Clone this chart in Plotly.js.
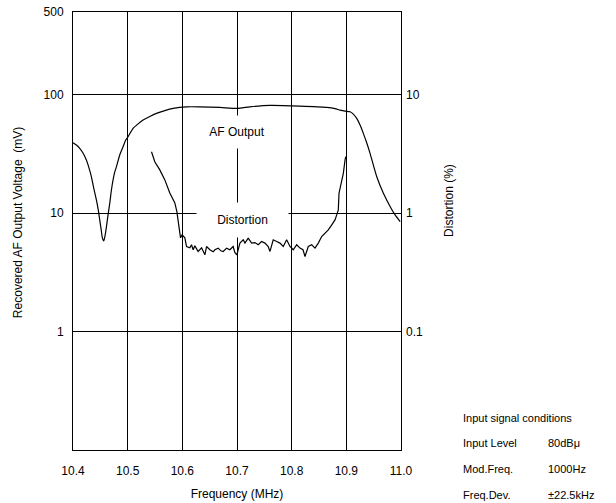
<!DOCTYPE html>
<html>
<head>
<meta charset="utf-8">
<script src="https://cdn.plot.ly/plotly-3.0.1.min.js"></script>
<style>html,body{margin:0;padding:0;background:#fff;}#chart{width:616px;height:503px;}</style>
</head>
<body>
<div id="chart"></div>
<script>
// AF Output (mV, left axis)
const afFreq = [10.4,10.4062,10.4123,10.4183,10.4245,10.4288,10.4337,10.4379,10.4429,10.4462,10.4489,10.4516,10.4538,10.4562,10.4586,10.4612,10.4641,10.4672,10.4703,10.4733,10.4764,10.4795,10.4855,10.4916,10.4965,10.5007,10.5099,10.5185,10.5282,10.5405,10.5527,10.5679,10.5832,10.6077,10.632,10.6687,10.7004,10.7236,10.7603,10.8152,10.8641,10.8793,10.8885,10.8976,10.9068,10.9128,10.919,10.9251,10.9311,10.9374,10.9434,10.9557,10.9678,10.98,10.9892,10.9984];
const afMv = [39.3,37.6,35.3,32.2,28.1,24.5,20.3,16.3,12.9,10.66,8.78,7.23,6.16,5.84,6.44,7.71,9.67,12.1,15.7,19.1,22.3,24.7,31.0,36.4,41.5,44.2,52.0,56.5,61.1,65.6,69.6,73.5,76.7,79.1,79.1,78.2,76.7,79.1,81.3,80.2,78.2,76.4,74.2,72.7,71.8,68.7,63.1,55.5,47.2,39.1,32.0,20.3,14.7,11.4,9.67,8.50];

// Distortion (%, right axis)
const distFreq = [10.5436,10.5496,10.5588,10.568,10.5771,10.5863,10.59,10.5927,10.5954,10.5967,10.5996,10.6046,10.6077,10.6137,10.6168,10.6198,10.6229,10.6289,10.6352,10.6412,10.6443,10.6504,10.6564,10.6595,10.6656,10.6705,10.6747,10.681,10.687,10.693,10.6962,10.6998,10.7053,10.7114,10.7145,10.7205,10.7267,10.7328,10.7388,10.745,10.7511,10.7571,10.7603,10.7663,10.7725,10.7786,10.7846,10.7908,10.7969,10.8029,10.8092,10.8152,10.8207,10.8244,10.8304,10.8366,10.8427,10.8487,10.8549,10.861,10.867,10.8733,10.8793,10.8824,10.8853,10.8866,10.8903,10.8945,10.8976,10.8989];
const distPct = [3.30,2.72,2.32,1.91,1.48,1.22,1.03,0.845,0.723,0.619,0.656,0.619,0.523,0.510,0.541,0.491,0.530,0.475,0.510,0.445,0.523,0.491,0.472,0.491,0.507,0.481,0.475,0.507,0.491,0.523,0.463,0.445,0.559,0.596,0.559,0.616,0.559,0.565,0.541,0.576,0.559,0.523,0.475,0.596,0.576,0.559,0.523,0.596,0.523,0.491,0.541,0.507,0.491,0.431,0.523,0.541,0.507,0.559,0.635,0.678,0.723,0.797,0.878,0.968,1.066,1.474,1.789,2.17,2.81,3.0];

const xTicks = [10.4,10.5,10.6,10.7,10.8,10.9,11.0];
const xTickText = ['10.4','10.5','10.6','10.7','10.8','10.9','11.0'];
const yLeftTicks = [1,10,100,500];
const yLeftTickText = ['1','10','100','500'];
const yRightTicks = [0.1,1,10];
const yRightTickText = ['0.1','1','10'];

const condLabels = ['Input Level','Mod.Freq.','Freq.Dev.'];
const condValues = ['80dB\u03bc','1000Hz','\u00b122.5kHz'];

const FONT = 'Liberation Sans, Arial, sans-serif';
const FS = 12;

const traces = [
  {x: afFreq, y: afMv, type: 'scatter', mode: 'lines', line: {color: '#000', width: 1.2, shape: 'spline', smoothing: 0.6}, yaxis: 'y', hoverinfo: 'skip'},
  {x: distFreq, y: distPct, type: 'scatter', mode: 'lines', line: {color: '#000', width: 1.2}, yaxis: 'y2', hoverinfo: 'skip'}
];

const annotations = [
  {x: 10.7, y: Math.log10(48.6), xref: 'x', yref: 'y', text: 'AF Output', showarrow: false, bgcolor: '#fff', width: 70, height: 30, font: {family: FONT, size: FS, color: '#000'}},
  {x: 10.7108, y: Math.log10(8.78), xref: 'x', yref: 'y', text: 'Distortion', showarrow: false, bgcolor: '#fff', width: 89, height: 32, font: {family: FONT, size: FS, color: '#000'}},
  {x: -0.168, y: 0.52, xref: 'paper', yref: 'paper', xanchor: 'center', yanchor: 'middle', textangle: -90, text: 'Recovered AF Output Voltage  (mV)', showarrow: false, font: {family: FONT, size: FS, color: '#000'}},
  {x: 1.148, y: 0.57, xref: 'paper', yref: 'paper', xanchor: 'center', yanchor: 'middle', textangle: -90, text: 'Distortion (%)', showarrow: false, font: {family: FONT, size: FS, color: '#000'}},
  {x: 1.183, y: 0.0737, xref: 'paper', yref: 'paper', xanchor: 'left', yanchor: 'middle', text: 'Input signal conditions', showarrow: false, font: {family: FONT, size: 11, color: '#000'}}
];
const rowY = [0.0153, -0.044, -0.1027];
for (let i = 0; i < condLabels.length; i++) {
  annotations.push({x: 1.183, y: rowY[i], xref: 'paper', yref: 'paper', xanchor: 'left', yanchor: 'middle', text: condLabels[i], showarrow: false, font: {family: FONT, size: 11, color: '#000'}});
  annotations.push({x: 1.4415, y: rowY[i], xref: 'paper', yref: 'paper', xanchor: 'left', yanchor: 'middle', text: condValues[i], showarrow: false, font: {family: FONT, size: 11, color: '#000'}});
}

const layout = {
  width: 616, height: 503,
  margin: {l: 73, r: 215, t: 12, b: 53},
  paper_bgcolor: '#fff', plot_bgcolor: '#fff',
  showlegend: false,
  font: {family: FONT, size: FS, color: '#000'},
  xaxis: {
    range: [10.4, 11.0], tickvals: xTicks, ticktext: xTickText,
    showgrid: true, gridcolor: '#000', gridwidth: 1,
    showline: true, linecolor: '#000', linewidth: 1, mirror: true,
    ticks: '', ticklabelstandoff: 10, zeroline: false,
    title: {text: 'Frequency (MHz)', standoff: 12, font: {family: FONT, size: FS}}
  },
  yaxis: {
    type: 'log', range: [-1, Math.log10(500)],
    tickvals: yLeftTicks, ticktext: yLeftTickText,
    showgrid: true, gridcolor: '#000', gridwidth: 1,
    showline: true, linecolor: '#000', linewidth: 1, mirror: true,
    ticks: '', ticklabelstandoff: 6, zeroline: false
  },
  yaxis2: {
    type: 'log', range: [-2, Math.log10(50)], overlaying: 'y', side: 'right',
    tickvals: yRightTicks, ticktext: yRightTickText,
    showgrid: false, showline: false, ticks: '', ticklabelstandoff: 4, zeroline: false
  },
  annotations: annotations
};

Plotly.newPlot('chart', traces, layout, {staticPlot: true, displayModeBar: false});
</script>
</body>
</html>
